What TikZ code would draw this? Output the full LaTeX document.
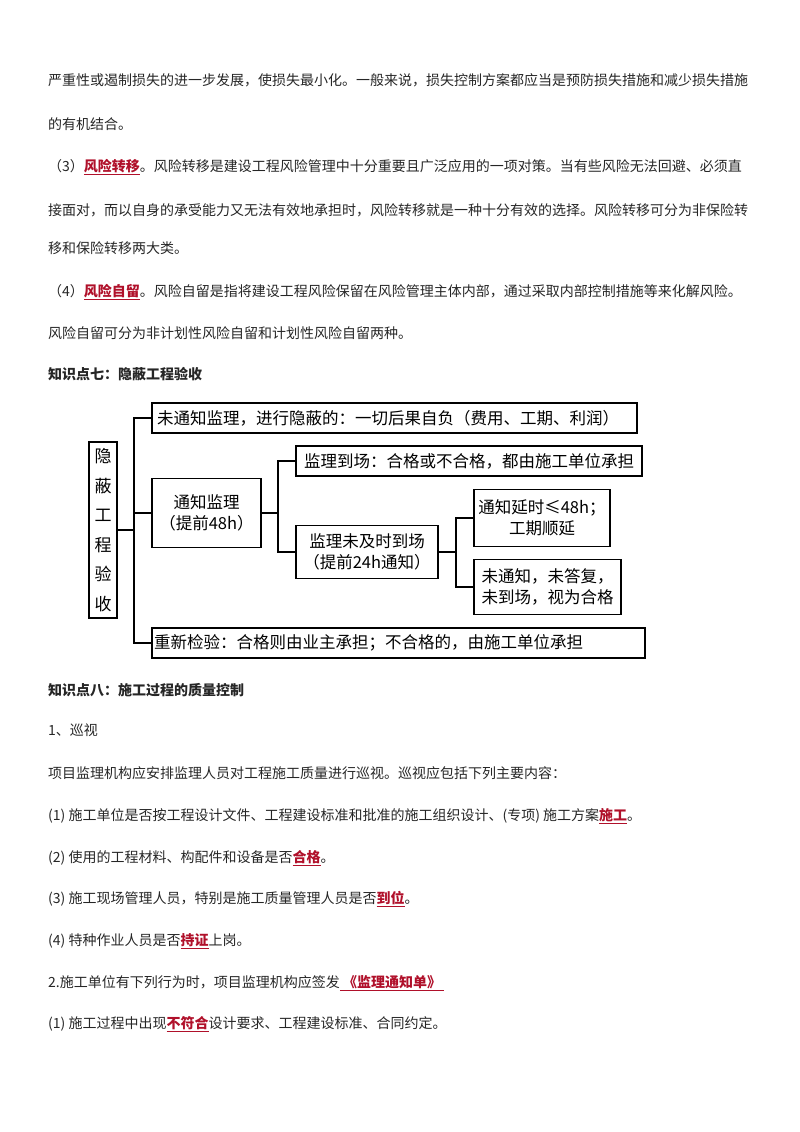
\documentclass[tikz,border=0pt]{standalone}
\usepackage{fontspec}
\setmainfont{Noto Sans CJK SC}
\definecolor{txt}{HTML}{262626}
\definecolor{hl}{HTML}{B0102A}
\begin{document}
\begin{tikzpicture}[x=1pt,y=-1pt,
  ln/.style={anchor=base west,inner sep=0pt,text=txt,font=\fontsize{14}{14}\selectfont},
  bx/.style={draw,line width=1.4pt,inner sep=0pt},
  bt/.style={inner sep=0pt,font=\fontsize{16.5}{21}\selectfont,align=center},
  cn/.style={line width=1.4pt}]
\useasboundingbox (0,0) rectangle (800,1132);
\newcommand{\hlt}[1]{\textcolor{hl}{\textbf{\underline{#1}}}}
\node[ln] (t1) at (48,85) {严重性或遏制损失的进一步发展，使损失最小化。一般来说，损失控制方案都应当是预防损失措施和减少损失措施};
\node[ln] (t2) at (48,129) {的有机结合。};
\node[ln] (t3) at (48,171) {（3）\hlt{风险转移}。风险转移是建设工程风险管理中十分重要且广泛应用的一项对策。当有些风险无法回避、必须直};
\node[ln] (t4) at (48,215) {接面对，而以自身的承受能力又无法有效地承担时，风险转移就是一种十分有效的选择。风险转移可分为非保险转};
\node[ln] (t5) at (48,253) {移和保险转移两大类。};
\node[ln] (t6) at (48,296) {（4）\hlt{风险自留}。风险自留是指将建设工程风险保留在风险管理主体内部，通过采取内部控制措施等来化解风险。};
\node[ln] (t7) at (48,338) {风险自留可分为非计划性风险自留和计划性风险自留两种。};
\node[ln,font=\fontsize{14}{14}\selectfont\bfseries] (h7) at (48,379) {知识点七：隐蔽工程验收};
% diagram
\node[bx,minimum width=28pt,minimum height=176pt] (root) at (103,530) {};
\node[bt,align=center,font=\fontsize{17}{29.5}\selectfont] (rt) at (103,530) {隐\\蔽\\工\\程\\验\\收};
\node[bx,minimum width=485pt,minimum height=30pt] (b1) at (394.5,418) {};
\node[bt,anchor=west] (b1t) at (157,418) {未通知监理，进行隐蔽的：一切后果自负（费用、工期、利润）};
\node[bx,minimum width=109pt,minimum height=69pt] (b2) at (206.5,513) {};
\node[bt] (b2t) at (206.5,513) {通知监理\\（提前48h）};
\node[bx,minimum width=346pt,minimum height=30pt] (b3) at (469,461) {};
\node[bt,anchor=west] (b3t) at (304,461) {监理到场：合格或不合格，都由施工单位承担};
\node[bx,minimum width=142pt,minimum height=53pt] (b4) at (367,552) {};
\node[bt] (b4t) at (367,552) {监理未及时到场\\（提前24h通知）};
\node[bx,minimum width=136pt,minimum height=57pt] (b5) at (542,518) {};
\node[bt] (b5t) at (542,518) {通知延时≤48h；\\工期顺延};
\node[bx,minimum width=147pt,minimum height=55pt] (b6) at (547.5,587) {};
\node[bt] (b6t) at (547.5,587) {未通知，未答复，\\未到场，视为合格};
\node[bx,minimum width=493pt,minimum height=30pt] (b7) at (398.5,643) {};
\node[bt,anchor=west] (b7t) at (154,643) {重新检验：合格则由业主承担；不合格的，由施工单位承担};
\coordinate (tr) at (134,530);
\draw[cn] (root.east) -- (tr);
\draw[cn] (b1.west) -| (tr) |- (b7.west);
\draw[cn] (tr) |- (b2.west);
\draw[cn] (b2.east) -- (278,513) coordinate (tr2);
\draw[cn] (b3.west) -| (tr2) |- (b4.west);
\draw[cn] (b4.east) -- (456,552) coordinate (tr3);
\draw[cn] (b5.west) -| (tr3) |- (b6.west);
% below
\node[ln,font=\fontsize{14}{14}\selectfont\bfseries] (h8) at (48,695) {知识点八：施工过程的质量控制};
\node[ln] (s1) at (48,735) {1、巡视};
\node[ln] (s2) at (48,778) {项目监理机构应安排监理人员对工程施工质量进行巡视。巡视应包括下列主要内容：};
\node[ln] (s3) at (48,820) {(1) 施工单位是否按工程设计文件、工程建设标准和批准的施工组织设计、(专项) 施工方案\hlt{施工}。};
\node[ln] (s4) at (48,862) {(2) 使用的工程材料、构配件和设备是否\hlt{合格}。};
\node[ln] (s5) at (48,903) {(3) 施工现场管理人员，特别是施工质量管理人员是否\hlt{到位}。};
\node[ln] (s6) at (48,945) {(4) 特种作业人员是否\hlt{持证}上岗。};
\node[ln] (s7) at (48,987) {2.施工单位有下列行为时，项目监理机构应签发\hlt{~《监理通知单》~}};
\node[ln] (s8) at (48,1028) {(1) 施工过程中出现\hlt{不符合}设计要求、工程建设标准、合同约定。};
\end{tikzpicture}
\end{document}
